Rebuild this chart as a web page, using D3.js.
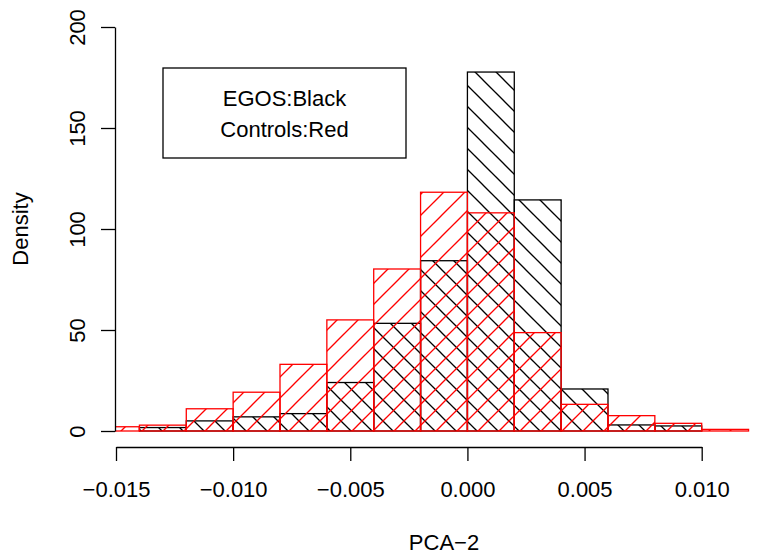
<!DOCTYPE html>
<html>
<head>
<meta charset="utf-8">
<script src="https://cdn.jsdelivr.net/npm/d3@7"></script>
<style>
  html, body { margin: 0; padding: 0; background: #fff; }
  svg { display: block; font-family: "Liberation Sans", Arial, Helvetica, sans-serif; }
</style>
</head>
<body>
<svg id="chart" width="765" height="554"></svg>
<script>
// ---- data ----
const egosBreaks = [-0.014, -0.012, -0.010, -0.008, -0.006, -0.004, -0.002, 0.000, 0.002, 0.004, 0.006, 0.008, 0.010];
const egosDensity = [1.7, 5, 7, 8.6, 24, 53.3, 84.3, 177.7, 114.4, 20.8, 3, 2.5];

const controlsBreaks = [-0.016, -0.014, -0.012, -0.010, -0.008, -0.006, -0.004, -0.002, 0.000, 0.002, 0.004, 0.006, 0.008, 0.010, 0.012, 0.014];
const controlsDensity = [2.1, 2.9, 11, 19.2, 33, 55, 80.2, 118.2, 108, 48.7, 13.2, 7.6, 3.8, 0.8, 0];

const xTicks = [-0.015, -0.010, -0.005, 0.000, 0.005, 0.010];
const xTickLabels = ["\u22120.015", "\u22120.010", "\u22120.005", "0.000", "0.005", "0.010"];
const yTicks = [0, 50, 100, 150, 200];
const yTickLabels = ["0", "50", "100", "150", "200"];
const legendLines = ["EGOS:Black", "Controls:Red"];
const xTitle = "PCA\u22122";
const yTitle = "Density";

// ---- layout ----
const svg = d3.select("#chart");
const x = d3.scaleLinear().domain([-0.015, 0.010]).range([116, 701.7]);
const y = d3.scaleLinear().domain([0, 200]).range([431, 27]);
const fontSize = 22;
const lw = 1.3;

const defs = svg.append("defs");
defs.append("clipPath").attr("id", "plotclip")
  .append("rect").attr("x", 115).attr("y", 0).attr("width", 650).attr("height", 447);

function hatch(id, color, dir, offset) {
  const p = defs.append("pattern").attr("id", id)
    .attr("patternUnits", "userSpaceOnUse")
    .attr("width", 21).attr("height", 21)
    .attr("patternTransform", `translate(0,${offset})`);
  const s = 21;
  const segs = dir === "back"
    ? [[-2, -2, s + 2, s + 2], [-2, s - 2, 2, s + 2], [s - 2, -2, s + 2, 2]]
    : [[-2, s + 2, s + 2, -2], [-2, 2, 2, -2], [s - 2, s + 2, s + 2, s - 2]];
  segs.forEach(d => p.append("line")
    .attr("x1", d[0]).attr("y1", d[1]).attr("x2", d[2]).attr("y2", d[3])
    .attr("stroke", color).attr("stroke-width", lw));
}
hatch("hatchBlack", "#000", "back", 17);
hatch("hatchRed", "#ff0000", "fwd", 6);

const plot = svg.append("g").attr("clip-path", "url(#plotclip)");

function drawHist(breaks, dens, color, pat) {
  const bins = dens.map((v, i) => ({x0: breaks[i], x1: breaks[i + 1], v}));
  const g = plot.append("g");
  bins.forEach(b => {
    const x0 = x(b.x0), x1 = x(b.x1), y0 = y(b.v), yb = y(0);
    g.append("rect").attr("x", x0).attr("y", y0)
      .attr("width", x1 - x0).attr("height", yb - y0)
      .attr("fill", `url(#${pat})`).attr("stroke", "none");
    g.append("rect").attr("x", x0).attr("y", y0)
      .attr("width", x1 - x0).attr("height", yb - y0)
      .attr("fill", "none").attr("stroke", color).attr("stroke-width", lw);
  });
}
drawHist(egosBreaks, egosDensity, "#000", "hatchBlack");
drawHist(controlsBreaks, controlsDensity, "#ff0000", "hatchRed");

// ---- axes ----
const xAxis = d3.axisBottom(x).tickValues(xTicks)
  .tickFormat((d, i) => xTickLabels[i]).tickSize(14).tickSizeOuter(0);
const gx = svg.append("g").attr("transform", "translate(0,447)").call(xAxis);
gx.select(".domain").attr("stroke", "#000").attr("stroke-width", lw);
gx.selectAll(".tick line").attr("stroke", "#000").attr("stroke-width", lw);
gx.selectAll(".tick text").attr("y", 50).attr("dy", null)
  .attr("font-size", fontSize).attr("fill", "#000")
  .attr("font-family", "Liberation Sans, Arial, sans-serif");

const yAxis = d3.axisLeft(y).tickValues(yTicks)
  .tickFormat((d, i) => yTickLabels[i]).tickSize(14).tickSizeOuter(0);
const gy = svg.append("g").attr("transform", "translate(115,0)").call(yAxis);
gy.select(".domain").attr("stroke", "#000").attr("stroke-width", lw);
gy.selectAll(".tick line").attr("stroke", "#000").attr("stroke-width", lw);
gy.selectAll(".tick text")
  .attr("x", 0).attr("y", -30).attr("dy", null)
  .attr("transform", "rotate(-90)")
  .attr("text-anchor", "middle")
  .attr("font-size", fontSize).attr("fill", "#000")
  .attr("font-family", "Liberation Sans, Arial, sans-serif");

// ---- titles ----
svg.append("text").attr("x", 444).attr("y", 550)
  .attr("text-anchor", "middle").attr("font-size", fontSize).attr("fill", "#000")
  .text(xTitle);
svg.append("text").attr("transform", "translate(28,229) rotate(-90)")
  .attr("text-anchor", "middle").attr("font-size", fontSize).attr("fill", "#000")
  .text(yTitle);

// ---- legend ----
svg.append("rect").attr("x", 163).attr("y", 68).attr("width", 243).attr("height", 90)
  .attr("fill", "#fff").attr("stroke", "#000").attr("stroke-width", lw);
legendLines.forEach((t, i) => {
  svg.append("text").attr("x", 284.5).attr("y", 106 + i * 31)
    .attr("text-anchor", "middle").attr("font-size", fontSize).attr("fill", "#000")
    .text(t);
});
</script>
</body>
</html>
